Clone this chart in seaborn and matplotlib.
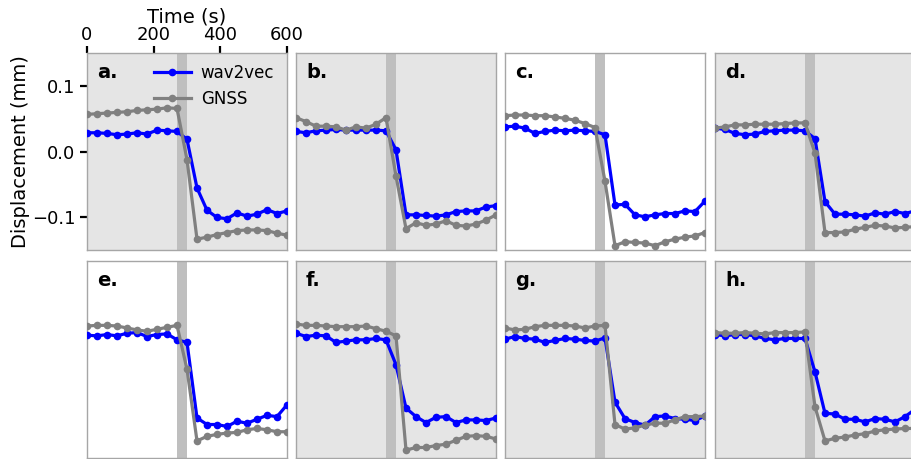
import numpy as np
import pandas as pd
import matplotlib
matplotlib.use("Agg")
import matplotlib.pyplot as plt
import seaborn as sns

# Sampling grid (s) shared by all stations
times = list(range(0, 601, 30))

panel_labels = ["a.", "b.", "c.", "d.", "e.", "f.", "g.", "h."]
# panels drawn on a plain white background
white_panels = ["c.", "e."]

# Displacement (mm) per panel: model estimate vs. GNSS reference
wav2vec_a = [0.029, 0.029, 0.028, 0.026, 0.027, 0.029, 0.027, 0.033, 0.032, 0.031, 0.019,
             -0.055, -0.089, -0.100, -0.102, -0.093, -0.098, -0.095, -0.088, -0.094, -0.090]
gnss_a = [0.057, 0.058, 0.059, 0.060, 0.061, 0.063, 0.064, 0.065, 0.067, 0.066, -0.012,
          -0.133, -0.130, -0.126, -0.123, -0.120, -0.119, -0.119, -0.120, -0.124, -0.127]

wav2vec_b = [0.031, 0.029, 0.032, 0.033, 0.034, 0.033, 0.033, 0.033, 0.033, 0.032, 0.003,
             -0.096, -0.096, -0.097, -0.098, -0.096, -0.091, -0.090, -0.090, -0.084, -0.082]
gnss_b = [0.052, 0.046, 0.039, 0.039, 0.038, 0.033, 0.038, 0.036, 0.042, 0.052, -0.037,
          -0.117, -0.108, -0.112, -0.110, -0.105, -0.112, -0.113, -0.110, -0.104, -0.096]

wav2vec_c = [0.038, 0.039, 0.036, 0.028, 0.031, 0.033, 0.032, 0.033, 0.032, 0.031, 0.026,
             -0.081, -0.080, -0.096, -0.099, -0.096, -0.094, -0.094, -0.090, -0.091, -0.075]
gnss_c = [0.055, 0.056, 0.056, 0.055, 0.055, 0.053, 0.051, 0.048, 0.043, 0.037, -0.045,
          -0.143, -0.137, -0.138, -0.139, -0.143, -0.137, -0.133, -0.130, -0.128, -0.123]

wav2vec_d = [0.036, 0.034, 0.028, 0.026, 0.027, 0.031, 0.032, 0.033, 0.033, 0.032, 0.020,
             -0.076, -0.095, -0.095, -0.096, -0.098, -0.093, -0.095, -0.091, -0.094, -0.090]
gnss_d = [0.036, 0.038, 0.041, 0.041, 0.042, 0.042, 0.042, 0.043, 0.044, 0.044, -0.002,
          -0.123, -0.123, -0.122, -0.118, -0.115, -0.112, -0.113, -0.116, -0.115, -0.114]

wav2vec_e = [0.037, 0.036, 0.038, 0.036, 0.040, 0.041, 0.035, 0.038, 0.039, 0.030, 0.026,
             -0.089, -0.099, -0.099, -0.102, -0.094, -0.097, -0.091, -0.085, -0.087, -0.069]
gnss_e = [0.051, 0.052, 0.052, 0.051, 0.048, 0.045, 0.043, 0.046, 0.049, 0.052, -0.015,
          -0.124, -0.117, -0.114, -0.112, -0.111, -0.107, -0.105, -0.107, -0.110, -0.110]

wav2vec_f = [0.040, 0.035, 0.037, 0.036, 0.026, 0.028, 0.030, 0.030, 0.032, 0.030, -0.008,
             -0.074, -0.087, -0.096, -0.088, -0.087, -0.096, -0.092, -0.092, -0.093, -0.089]
gnss_f = [0.054, 0.052, 0.052, 0.051, 0.050, 0.050, 0.050, 0.051, 0.047, 0.043, 0.036,
          -0.138, -0.134, -0.134, -0.131, -0.129, -0.123, -0.117, -0.116, -0.117, -0.121]

wav2vec_g = [0.031, 0.035, 0.032, 0.031, 0.026, 0.029, 0.032, 0.031, 0.029, 0.028, 0.033,
             -0.065, -0.090, -0.096, -0.100, -0.087, -0.086, -0.090, -0.091, -0.093, -0.086]
gnss_g = [0.048, 0.045, 0.046, 0.050, 0.052, 0.052, 0.052, 0.051, 0.048, 0.051, 0.052,
          -0.099, -0.106, -0.104, -0.100, -0.097, -0.097, -0.092, -0.087, -0.087, -0.086]

wav2vec_h = [0.038, 0.036, 0.038, 0.038, 0.036, 0.032, 0.030, 0.032, 0.032, 0.032, -0.019,
             -0.082, -0.083, -0.091, -0.091, -0.095, -0.090, -0.091, -0.095, -0.087, -0.076]
gnss_h = [0.041, 0.040, 0.040, 0.041, 0.040, 0.039, 0.041, 0.041, 0.041, 0.042, -0.072,
          -0.124, -0.120, -0.118, -0.115, -0.113, -0.109, -0.107, -0.106, -0.105, -0.105]

wav2vec_series = [wav2vec_a, wav2vec_b, wav2vec_c, wav2vec_d,
                  wav2vec_e, wav2vec_f, wav2vec_g, wav2vec_h]
gnss_series = [gnss_a, gnss_b, gnss_c, gnss_d, gnss_e, gnss_f, gnss_g, gnss_h]

# Shaded window around the event onset (s)
event_window = (270, 300)

x_ticks = [0, 200, 400, 600]
y_ticks = [-0.1, 0.0, 0.1]

# Long-form table for seaborn
rows = []
for lab, w, g in zip(panel_labels, wav2vec_series, gnss_series):
    for t, v in zip(times, w):
        rows.append({"panel": lab, "time": t, "disp": v, "source": "wav2vec"})
    for t, v in zip(times, g):
        rows.append({"panel": lab, "time": t, "disp": v, "source": "GNSS"})
df = pd.DataFrame(rows)

palette = {"wav2vec": "#0000ff", "GNSS": "#808080"}

fig = plt.figure(figsize=(9.12, 4.59), dpi=100)

W, H = 912.0, 459.0
lefts = [87, 296, 505, 715]
tops = [53.3, 261]
aw, ah = 200, 197

for i, lab in enumerate(panel_labels):
    r, c = divmod(i, 4)
    ax = fig.add_axes([lefts[c] / W, 1 - (tops[r] + ah) / H, aw / W, ah / H])
    ax.set_facecolor("white" if lab in white_panels else "#e5e5e5")
    ax.axvspan(*event_window, color="#bfbfbf", lw=0, zorder=0)
    sub = df[df["panel"] == lab]
    sns.lineplot(data=sub, x="time", y="disp", hue="source",
                 hue_order=["wav2vec", "GNSS"], palette=palette,
                 marker="o", markersize=5.5, markeredgewidth=0,
                 linewidth=2.3, legend=False, ax=ax, zorder=3)
    ax.set_xlim(0, 600)
    ax.set_ylim(-0.15, 0.15)
    for sp in ax.spines.values():
        sp.set_color("#a6a6a6")
        sp.set_linewidth(1.0)
    ax.text(0.05, 0.95, lab, transform=ax.transAxes, fontsize=14,
            fontweight="bold", va="top", ha="left")
    if i == 0:
        ax.xaxis.tick_top()
        ax.xaxis.set_label_position("top")
        ax.set_xticks(x_ticks)
        ax.set_yticks(y_ticks)
        ax.tick_params(axis="both", length=5, width=1.6, color="black",
                       labelsize=13)
        ax.tick_params(axis="x", pad=2)
        ax.set_xlabel("Time (s)", fontsize=14, labelpad=2)
        ax.set_ylabel("Displacement (mm)", fontsize=14)
        ax.yaxis.set_label_coords(-0.285, 0.5)
        ax.legend(ax.lines[:2], ["wav2vec", "GNSS"], loc="upper left",
                  bbox_to_anchor=(0.335, 0.945), frameon=False,
                  fontsize=12, handlelength=2.2, handletextpad=0.6,
                  borderpad=0, borderaxespad=0, labelspacing=0.45)
    else:
        ax.set_xticks([])
        ax.set_yticks([])
        ax.set_xlabel("")
        ax.set_ylabel("")

fig.savefig("out.png", dpi=100)
